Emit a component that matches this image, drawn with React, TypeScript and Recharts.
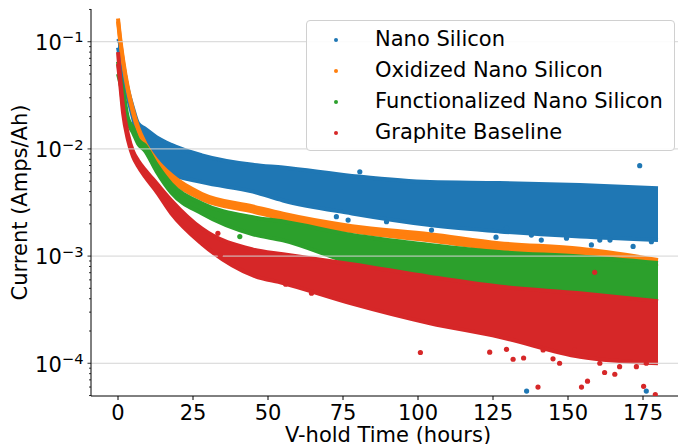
import {
  ComposedChart,
  Area,
  Scatter,
  XAxis,
  YAxis,
  ReferenceLine,
  Legend,
  Label,
} from 'recharts'

const hours = [0, 0.6, 1.7, 3.3, 5, 6.7, 9, 12.8, 17.8, 28, 45, 55, 78, 104, 127, 154, 180]

const nanoHigh = [0.107, 0.098, 0.062, 0.036, 0.0241, 0.0173, 0.0155, 0.0129, 0.0109, 0.0087, 0.0071, 0.0067, 0.0056, 0.0049, 0.0048, 0.0046, 0.0043]
const nanoLow = [0.088, 0.072, 0.048, 0.03, 0.0194, 0.0121, 0.0098, 0.0076, 0.0059, 0.0049, 0.004, 0.0033, 0.0025, 0.00195, 0.0017, 0.00152, 0.00141]

const oxidizedHigh = [0.165, 0.115, 0.068, 0.037, 0.0232, 0.016, 0.0114, 0.0079, 0.0057, 0.0038, 0.0029, 0.00248, 0.0019, 0.0016, 0.00132, 0.00117, 0.00092]
const oxidizedLow = [0.155, 0.109, 0.064, 0.035, 0.0218, 0.015, 0.0106, 0.0073, 0.0051, 0.0034, 0.0026, 0.00222, 0.0017, 0.0014, 0.00116, 0.00103, 0.0008]

const functionalizedHigh = [0.065, 0.05, 0.035, 0.0195, 0.0158, 0.0122, 0.0108, 0.0072, 0.0047, 0.0031, 0.0023, 0.0021, 0.00157, 0.00127, 0.00109, 0.00099, 0.00086]
const functionalizedLow = [0.05, 0.043, 0.031, 0.0178, 0.0142, 0.0112, 0.0096, 0.0062, 0.0039, 0.0025, 0.0016, 0.0014, 0.00086, 0.00062, 0.00052, 0.00045, 0.00038]

const graphiteHigh = [0.08, 0.05, 0.0245, 0.0138, 0.0095, 0.0078, 0.0064, 0.0048, 0.0033, 0.0018, 0.00115, 0.00104, 0.00084, 0.00064, 0.00052, 0.00045, 0.00038]
const graphiteLow = [0.062, 0.044, 0.0215, 0.0122, 0.0085, 0.0069, 0.0055, 0.004, 0.0025, 0.0013, 0.00066, 0.00056, 0.00036, 0.000236, 0.000177, 0.000115, 0.0001]

// stray points outside the dense bands
const nanoStrayHours = [72.8, 76.7, 80.6, 89.5, 104.5, 126, 129.5, 136.2, 137.8, 141.1, 149.5, 157.8, 160.6, 164, 171.7, 173.9, 176.1, 177.8]
const nanoStrayCurrent = [0.00233, 0.00217, 0.00612, 0.00209, 0.00175, 0.0015, 0.00182, 0.000055, 0.00157, 0.00141, 0.00147, 0.00127, 0.00141, 0.00141, 0.00123, 0.00697, 0.000055, 0.00136]

const functionalizedStrayHours = [40.6]
const functionalizedStrayCurrent = [0.00152]

const graphiteStrayHours = [33.3, 34.1, 38.2, 55.9, 64.5, 100.8, 123.9, 129.5, 131.7, 135.2, 140, 141.7, 145, 147.2, 152.2, 154.5, 156.5, 158.9, 160.6, 162.2, 165.6, 167.2, 172.8, 175.2, 176.1, 179.1]
const graphiteStrayCurrent = [0.00163, 0.00102, 0.00089, 0.000546, 0.00045, 0.000126, 0.000127, 0.000135, 0.000109, 0.000112, 0.00006, 0.000133, 0.00011, 0.0001, 0.000133, 0.00006, 0.000068, 0.000706, 0.0001, 0.000082, 0.000079, 0.000093, 0.000093, 0.000061, 0.0001, 0.000051]

const seriesNames = ['Nano Silicon', 'Oxidized Nano Silicon', 'Functionalized Nano Silicon', 'Graphite Baseline']
const colors = ['#1f77b4', '#ff7f0e', '#2ca02c', '#d62728']

const xTicks = [0, 25, 50, 75, 100, 125, 150, 175]
const majorTicks = [1e-4, 1e-3, 1e-2, 1e-1]
const minorTicks = [
  5e-5, 6e-5, 7e-5, 8e-5, 9e-5,
  2e-4, 3e-4, 4e-4, 5e-4, 6e-4, 7e-4, 8e-4, 9e-4,
  2e-3, 3e-3, 4e-3, 5e-3, 6e-3, 7e-3, 8e-3, 9e-3,
  2e-2, 3e-2, 4e-2, 5e-2, 6e-2, 7e-2, 8e-2, 9e-2,
  2e-1,
]

const rows = hours.map((h, i) => ({
  hours: h,
  nano: [nanoLow[i], nanoHigh[i]],
  oxidized: [oxidizedLow[i], oxidizedHigh[i]],
  functionalized: [functionalizedLow[i], functionalizedHigh[i]],
  graphite: [graphiteLow[i], graphiteHigh[i]],
}))

const toPoints = (hs: number[], cs: number[]) => hs.map((h, i) => ({ hours: h, current: cs[i] }))

const FONT = 'DejaVu Sans'

function Dot(props: any) {
  const { cx, cy, fill } = props
  return <circle cx={cx} cy={cy} r={2.6} fill={fill} />
}

function LogTick(props: any) {
  const { x, y, payload } = props
  const v = payload.value
  const e = Math.round(Math.log10(v))
  const major = Math.abs(Math.log10(v) - e) < 1e-6
  if (!major) {
    return <line x1={x - 2} x2={x} y1={y} y2={y} stroke="#000" strokeWidth={0.8} />
  }
  return (
    <g>
      <line x1={x - 3.5} x2={x} y1={y} y2={y} stroke="#000" strokeWidth={0.8} />
      <text x={x - 7.5} y={y + 8.3} textAnchor="end" fontSize={21} fontFamily={FONT} fill="#000">
        <tspan>10</tspan>
        <tspan dy={-7.6} fontSize={14.7}>{`\u2212${Math.abs(e)}`}</tspan>
      </text>
    </g>
  )
}

function LegendBox() {
  return (
    <div
      style={{
        width: 369,
        height: 131,
        boxSizing: 'border-box',
        border: '1px solid #d0d0d0',
        borderRadius: 4,
        background: 'rgba(255,255,255,0.9)',
        fontFamily: FONT,
        fontSize: 21,
        color: '#000',
        paddingTop: 3,
      }}
    >
      {seriesNames.map((name, i) => (
        <div key={name} style={{ height: 31, display: 'flex', alignItems: 'center' }}>
          <span
            style={{
              display: 'inline-block',
              width: 4,
              height: 4,
              borderRadius: 2,
              background: colors[i],
              marginLeft: 27,
              marginRight: 37,
            }}
          />
          <span style={{ lineHeight: '31px', whiteSpace: 'nowrap' }}>{name}</span>
        </div>
      ))}
    </div>
  )
}

export default function App() {
  const keys = ['nano', 'oxidized', 'functionalized', 'graphite']
  const stray = [
    toPoints(nanoStrayHours, nanoStrayCurrent),
    [],
    toPoints(functionalizedStrayHours, functionalizedStrayCurrent),
    toPoints(graphiteStrayHours, graphiteStrayCurrent),
  ]

  return (
    <div
      style={{
        position: 'absolute',
        left: 0,
        top: 0,
        width: 678,
        height: 444,
        overflow: 'hidden',
        background: '#fff',
      }}
    >
      <ComposedChart
        width={700}
        height={444}
        data={rows}
        margin={{ top: 9, right: 15, bottom: 0, left: 0 }}
        style={{ fontFamily: FONT }}
      >
        <XAxis
          dataKey="hours"
          type="number"
          domain={[-9, 189]}
          allowDataOverflow
          ticks={xTicks}
          interval={0}
          tickSize={4}
          tickMargin={5}
          height={48}
          stroke="#000"
          tick={{ fill: '#000', fontSize: 21, fontFamily: FONT }}
        >
          <Label
            content={(p: any) => (
              <text
                x={p.viewBox.x + p.viewBox.width / 2}
                y={p.viewBox.y + 46}
                textAnchor="middle"
                fontSize={21}
                fontFamily={FONT}
                fill="#000"
              >
                V-hold Time (hours)
              </text>
            )}
          />
        </XAxis>
        <XAxis
          xAxisId="top"
          orientation="top"
          type="number"
          dataKey="hours"
          domain={[-9, 189]}
          allowDataOverflow
          height={0}
          tick={false}
          tickLine={false}
          stroke="#000"
        />
        <YAxis
          type="number"
          scale="log"
          domain={[4.95e-5, 0.202]}
          allowDataOverflow
          ticks={[...minorTicks, ...majorTicks]}
          interval={0}
          width={91}
          tickSize={0}
          tickMargin={0}
          tickLine={false}
          tick={<LogTick />}
          stroke="#000"
        >
          <Label
            content={() => (
              <text
                x={27}
                y={202.5}
                transform="rotate(-90, 27, 202.5)"
                textAnchor="middle"
                fontSize={21}
                fontFamily={FONT}
                fill="#000"
              >
                Current (Amps/Ah)
              </text>
            )}
          />
        </YAxis>
        {majorTicks.map((v) => (
          <ReferenceLine key={v} y={v} stroke="#d4d4d4" strokeWidth={1} />
        ))}
        {keys.map((k, i) => [
          <Area
            key={k}
            dataKey={k}
            name={seriesNames[i]}
            type="monotone"
            stroke={colors[i]}
            strokeWidth={4}
            fill={colors[i]}
            fillOpacity={1}
            dot={false}
            activeDot={false}
            isAnimationActive={false}
            legendType="none"
          />,
          stray[i].length > 0 ? (
            <Scatter
              key={k + '-stray'}
              data={stray[i]}
              dataKey="current"
              fill={colors[i]}
              shape={<Dot />}
              isAnimationActive={false}
              legendType="none"
            />
          ) : null,
        ])}
        <Legend
          layout="vertical"
          align="center"
          verticalAlign="middle"
          content={() => <LegendBox />}
          wrapperStyle={{ position: 'absolute', left: 306, top: 20, width: 369, height: 131 }}
        />
      </ComposedChart>
    </div>
  )
}
